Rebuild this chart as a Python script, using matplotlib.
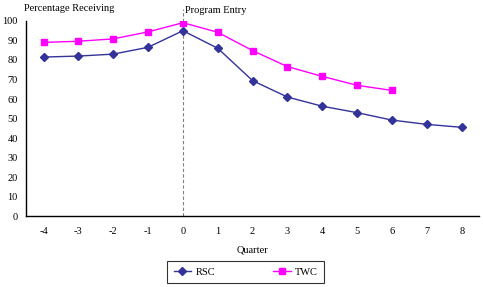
import matplotlib
matplotlib.use("Agg")
import matplotlib.pyplot as plt

# -- Data ---------------------------------------------------------------------
quarters = [-4, -3, -2, -1, 0, 1, 2, 3, 4, 5, 6, 7, 8]
rsc = [81.5, 82, 83, 86.5, 95, 86, 69.4, 61, 56.3, 53, 49.2, 47, 45.5]
twc_quarters = [-4, -3, -2, -1, 0, 1, 2, 3, 4, 5, 6]
twc = [89, 89.6, 90.8, 94.4, 99.1, 94.2, 84.8, 76.6, 71.6, 67, 64.4]
yticks = list(range(0, 101, 10))

plt.rcParams['font.family'] = ['Liberation Serif', 'DejaVu Serif']
plt.rcParams['font.size'] = 7.5
plt.rcParams['axes.unicode_minus'] = False

fig = plt.figure(figsize=(4.83, 2.87), dpi=100)
ax = fig.add_axes([0.054, 0.247, 0.938, 0.680])

ax.plot(quarters, rsc, color='#333399', lw=1, marker='D', ms=4.5,
        label='RSC')
ax.plot(twc_quarters, twc, color='#FF00FF', lw=1, marker='s', ms=5,
        label='TWC')

# Program entry marker
ax.axvline(0, ymin=0, ymax=1.06, color='gray', ls=(0, (3, 2)), lw=0.8,
           clip_on=False, zorder=0)
ax.text(0.05, 103, 'Program Entry', ha='left', va='bottom')

ax.set_xlim(-4.5, 8.5)
ax.set_ylim(0, 100)
ax.set_xticks(quarters)
ax.set_yticks(yticks)
ax.tick_params(axis='x', length=0, pad=8)
ax.tick_params(axis='y', length=0, pad=6)
for side in ('top', 'right'):
    ax.spines[side].set_visible(False)
for side in ('left', 'bottom'):
    ax.spines[side].set_linewidth(1)

ax.set_xlabel('Quarter', labelpad=7)
fig.text(0.05, 0.972, 'Percentage Receiving', ha='left', va='center')

leg = fig.legend(loc='center', bbox_to_anchor=(0.509, 0.052), ncol=2,
                 frameon=True, fancybox=False, edgecolor='black',
                 columnspacing=5.6, handlelength=1.7, borderpad=0.6,
                 handletextpad=0.4, borderaxespad=0)
leg.get_frame().set_linewidth(0.8)

fig.savefig('out.png', dpi=100)
